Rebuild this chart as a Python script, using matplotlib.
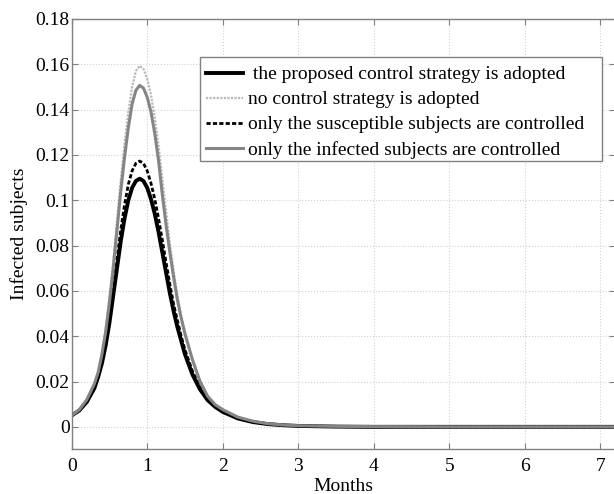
import numpy as np
import matplotlib
matplotlib.use('Agg')
import matplotlib.pyplot as plt
from matplotlib.patches import Rectangle

plt.rcParams['font.family'] = ['Liberation Serif', 'DejaVu Serif']

# time in months
months = [0, 0.1, 0.2, 0.3, 0.35, 0.4, 0.45, 0.5, 0.55, 0.6, 0.65, 0.7, 0.75, 0.8, 0.85,
          0.9, 0.95, 1.0, 1.05, 1.1, 1.15, 1.2, 1.25, 1.3, 1.35, 1.4, 1.45, 1.5, 1.6,
          1.7, 1.8, 1.9, 2.0, 2.2, 2.4, 2.6, 2.8, 3.0, 3.5, 4.0, 5.0, 6.0, 7.0, 7.2]

# infected subjects for each strategy
proposed = [0.005, 0.0072, 0.011, 0.017, 0.022, 0.028, 0.036, 0.046, 0.058, 0.070, 0.082,
            0.092, 0.100, 0.1055, 0.1085, 0.1095, 0.1085, 0.1055, 0.1005, 0.094, 0.086, 0.077,
            0.068, 0.059, 0.051, 0.044, 0.038, 0.032, 0.023, 0.0165, 0.0118, 0.0088, 0.0066,
            0.0037, 0.0021, 0.0012, 0.0007, 0.0004, 0.0001, 0.0, 0.0, 0.0, 0.0, 0.0]
no_control = [0.005, 0.0075, 0.012, 0.019, 0.024, 0.032, 0.043, 0.057, 0.073, 0.091, 0.109,
              0.125, 0.139, 0.150, 0.157, 0.1593, 0.158, 0.1535, 0.1465, 0.1365, 0.124, 0.1095,
              0.095, 0.081, 0.069, 0.058, 0.049, 0.042, 0.030, 0.020, 0.0135, 0.0098, 0.0076,
              0.0043, 0.0025, 0.0014, 0.0008, 0.0005, 0.0002, 0.0001, 0.0, 0.0, 0.0, 0.0]
only_susceptible = [0.005, 0.0072, 0.011, 0.018, 0.023, 0.029, 0.037, 0.048, 0.061, 0.074, 0.087,
                    0.098, 0.107, 0.113, 0.1163, 0.1173, 0.1163, 0.113, 0.1075, 0.1005, 0.092, 0.0825,
                    0.0725, 0.063, 0.054, 0.047, 0.040, 0.034, 0.0245, 0.0175, 0.0124, 0.0092, 0.0069,
                    0.0038, 0.0022, 0.0013, 0.0007, 0.0004, 0.0001, 0.0, 0.0, 0.0, 0.0, 0.0]
only_infected = [0.005, 0.0075, 0.012, 0.019, 0.024, 0.032, 0.042, 0.055, 0.070, 0.087, 0.104,
                 0.119, 0.132, 0.1425, 0.1485, 0.1507, 0.1495, 0.1455, 0.139, 0.1295, 0.1175, 0.1025,
                 0.089, 0.077, 0.066, 0.056, 0.048, 0.041, 0.0295, 0.020, 0.0135, 0.0098, 0.0076,
                 0.0043, 0.0025, 0.0014, 0.0008, 0.0005, 0.0002, 0.0001, 0.0, 0.0, 0.0, 0.0]

labels = [' the proposed control strategy is adopted',
          'no control strategy is adopted',
          'only the susceptible subjects are controlled',
          'only the infected subjects are controlled']

x_ticks = [0, 1, 2, 3, 4, 5, 6, 7]
y_ticks = [0, 0.02, 0.04, 0.06, 0.08, 0.1, 0.12, 0.14, 0.16, 0.18]
y_ticklabels = ['0', '0.02', '0.04', '0.06', '0.08', '0.1', '0.12', '0.14', '0.16', '0.18']

fig = plt.figure(figsize=(6.14, 4.94), dpi=100)
ax = fig.add_axes([0.1168, 0.0901, 0.8853, 0.8715])

ax.plot(months, proposed, color='black', lw=2.8, label=labels[0])
ax.plot(months, no_control, color='#b8b8b8', lw=1.6, ls=(0, (1, 0.6)), label=labels[1])
ax.plot(months, only_susceptible, color='black', lw=2.0, ls=(0, (1.5, 0.8)), label=labels[2])
ax.plot(months, only_infected, color='#858585', lw=2.2, label=labels[3])

ax.set_xlim(0, 7.2)
ax.set_ylim(-0.01, 0.18)
ax.set_xticks(x_ticks)
ax.set_yticks(y_ticks)
ax.set_yticklabels(y_ticklabels)
ax.tick_params(direction='in', length=4, width=0.8, color='#808080', labelsize=14,
               top=True, right=True)
ax.tick_params(axis='x', pad=6)
ax.tick_params(axis='y', pad=1.5)
for s in ax.spines.values():
    s.set_color('#808080')
    s.set_linewidth(1.0)
ax.grid(True, color='#d2d2d2', ls=':', lw=0.8)

ax.set_xlabel('Months', fontsize=14, labelpad=2)
ax.set_ylabel('Infected subjects', fontsize=14)
ax.yaxis.set_label_coords(-0.081, 0.5)

# legend without its own frame, frame drawn to match the box size of the original
leg = ax.legend(loc='upper left', bbox_to_anchor=(200 / 614, 1 - 60 / 494),
                bbox_transform=fig.transFigure, borderaxespad=0, fontsize=14,
                frameon=False, handlelength=1.9, handletextpad=0.25,
                labelspacing=0.38, borderpad=0.3)
leg.set_zorder(6)
frame = Rectangle((200 / 614, 1 - 161 / 494), 402 / 614, 103.5 / 494,
                  transform=fig.transFigure, facecolor='white',
                  edgecolor='#808080', lw=1.0, zorder=5, clip_on=False)
ax.add_patch(frame)

fig.savefig('out.png', dpi=100)
